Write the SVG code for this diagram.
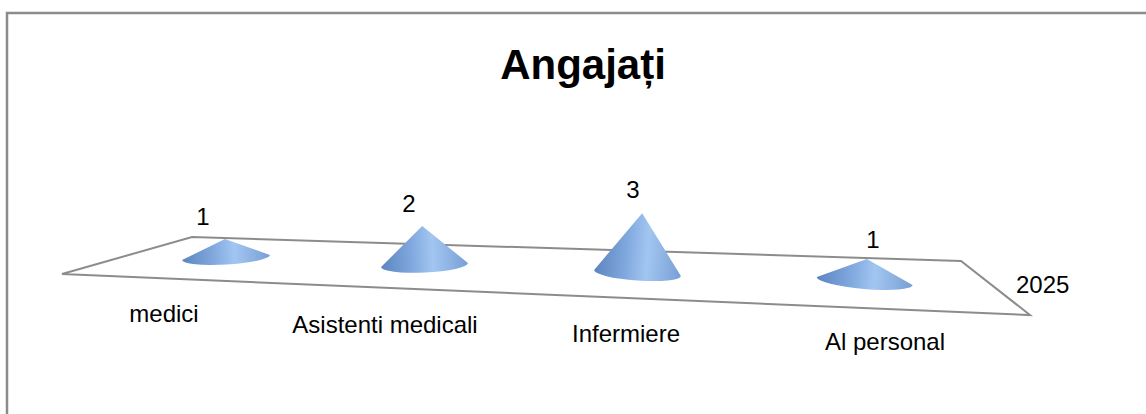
<svg xmlns="http://www.w3.org/2000/svg" width="1146" height="414" viewBox="0 0 1146 414">
<defs>
<linearGradient id="cone" x1="0" y1="0" x2="1" y2="0">
<stop offset="0" stop-color="#5c85c0"/>
<stop offset="0.35" stop-color="#80a8de"/>
<stop offset="0.6" stop-color="#a2c6f1"/>
<stop offset="1" stop-color="#789fd5"/>
</linearGradient>
<style>
.frame{fill:none;stroke:#8c8c8c;stroke-width:2.5}
.floor{fill:#ffffff;stroke:#8c8c8c;stroke-width:2;stroke-linejoin:miter}
.cone{fill:url(#cone);stroke:none}
.t{font-family:"Liberation Sans",Arial,sans-serif;font-size:24px;fill:#000}
.v{font-family:"Liberation Sans",Arial,sans-serif;font-size:24px;fill:#000}
.title{font-family:"Liberation Sans",Arial,sans-serif;font-size:42px;font-weight:bold;fill:#000}
</style>
</defs>
<rect width="1146" height="414" fill="#ffffff"/>
<path class="frame" d="M7,414 V13 H1146"/>
<text class="title" x="583" y="79" text-anchor="middle">Angajați</text>
<g id="floor">
<polygon class="floor" points="62,274 192,237 961,261 1030,315"/>
</g>
<g id="cone-medici">
<path class="cone" transform="rotate(-3.3 226 257.5)" d="M182,257.5 L226,239 L270,257.5 A44,7 0 0 1 182,257.5 Z"/>
<text class="v" x="203" y="225" text-anchor="middle">1</text>
<text class="t" x="164" y="322" text-anchor="middle">medici</text>
</g>
<g id="cone-asistenti">
<path class="cone" transform="rotate(-2.6 424.5 265)" d="M381,265 L424,226 L468,265 A43.5,7.5 0 0 1 381,265 Z"/>
<text class="v" x="409" y="212" text-anchor="middle">2</text>
<text class="t" x="385" y="333" text-anchor="middle">Asistenti medicali</text>
</g>
<g id="cone-infermiere">
<path class="cone" transform="rotate(4 637.5 273)" d="M594,273 L638,213 L681,273 A43.5,7.5 0 0 1 594,273 Z"/>
<text class="v" x="633" y="198" text-anchor="middle">3</text>
<text class="t" x="626" y="342" text-anchor="middle">Infermiere</text>
</g>
<g id="cone-personal">
<path class="cone" transform="rotate(4.9 864.7 281)" d="M816.7,281 L865,259 L912.7,281 A48,8 0 0 1 816.7,281 Z"/>
<text class="v" x="873" y="248" text-anchor="middle">1</text>
<text class="t" x="885" y="350" text-anchor="middle">Al personal</text>
</g>
<g id="series">
<text class="t" x="1016" y="293">2025</text>
</g>
</svg>
